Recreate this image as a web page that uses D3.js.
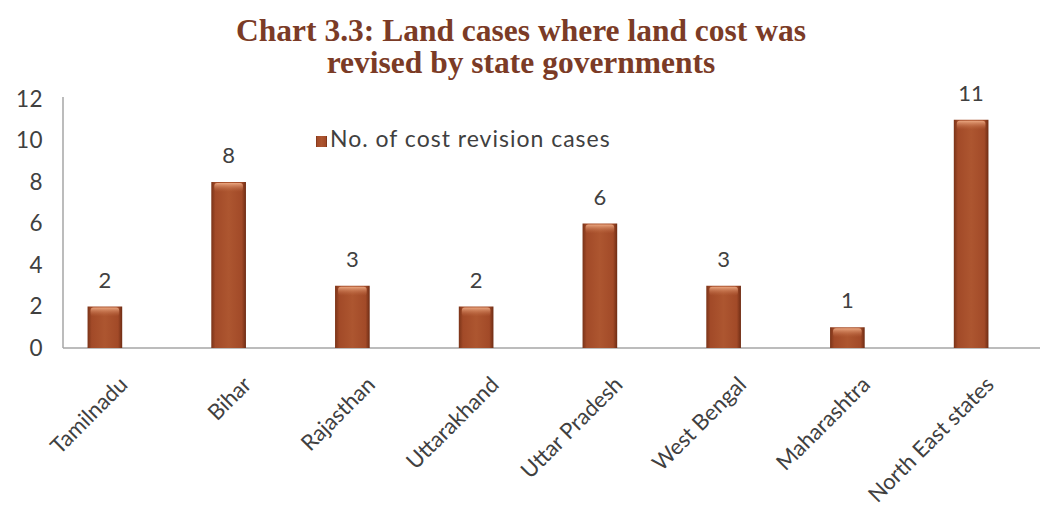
<!DOCTYPE html>
<html><head><meta charset="utf-8">
<script src="https://cdn.jsdelivr.net/npm/d3@7"></script>
<style>body{margin:0;background:#fff;} svg{display:block;}</style>
</head><body>
<script>
const categories = ["Tamilnadu","Bihar","Rajasthan","Uttarakhand","Uttar Pradesh","West Bengal","Maharashtra","North East states"];
const values = [2,8,3,2,6,3,1,11];
const yTicks = [0,2,4,6,8,10,12];
const seriesName = "No. of cost revision cases";
const titleLines = ["Chart 3.3: Land cases where land cost was","revised by state governments"];

const W=1042,H=511;
const FONT="Lato, Carlito, sans-serif";
const svg=d3.select("body").append("svg").attr("width",W).attr("height",H);
const defs=svg.append("defs");
const g1=defs.append("linearGradient").attr("id","barH").attr("x1","0").attr("x2","1").attr("y1","0").attr("y2","0");
[["0%","#7a3318"],["12%","#a24a28"],["50%","#ad5630"],["88%","#a24a28"],["100%","#6e2c14"]].forEach(s=>g1.append("stop").attr("offset",s[0]).attr("stop-color",s[1]));
const g2=defs.append("linearGradient").attr("id","barTop").attr("x1","0").attr("x2","0").attr("y1","0").attr("y2","1");
[["0%","#f2b08a",0.9],["100%","#c06a42",0]].forEach(s=>g2.append("stop").attr("offset",s[0]).attr("stop-color",s[1]).attr("stop-opacity",s[2]));

const x=d3.scaleBand().domain(categories).range([43,1033]).paddingInner(0.72).paddingOuter(0.36);
const y=d3.scaleLinear().domain([0,12]).range([348,99]);
const plotLeft=63, plotRight=1040;

// title
svg.append("g").selectAll("text").data(titleLines).join("text")
  .attr("x",521).attr("y",(d,i)=>41+i*32).attr("text-anchor","middle")
  .attr("font-family","Liberation Serif, Times New Roman, serif").attr("font-weight","bold")
  .attr("font-size",31.5).attr("fill","#7b3b26").text(d=>d);

// axes
const yAxis=d3.axisLeft(y).tickValues(yTicks).tickSize(0).tickPadding(20);
const ya=svg.append("g").attr("transform",`translate(${plotLeft},0)`).call(yAxis);
ya.select(".domain").remove();
ya.selectAll("text").attr("font-family",FONT).attr("font-size",22.5).attr("fill","#404040").attr("text-anchor","end").attr("letter-spacing",0.5);
svg.append("line").attr("x1",plotLeft).attr("x2",plotLeft).attr("y1",y(12)-2).attr("y2",y(0))
  .attr("stroke","#a6a6a6").attr("stroke-width",1.5);

const xAxis=d3.axisBottom(x).tickSize(0).tickPadding(0);
const xa=svg.append("g").attr("transform",`translate(0,${y(0)})`).call(xAxis);
xa.select(".domain").remove();
xa.selectAll("text").attr("font-family",FONT).attr("font-size",22).attr("fill","#404040")
  .attr("text-anchor","end").attr("dy",0)
  .attr("transform","translate(24,38) rotate(-45)");
svg.append("line").attr("x1",plotLeft).attr("x2",plotRight).attr("y1",y(0)).attr("y2",y(0))
  .attr("stroke","#a6a6a6").attr("stroke-width",1.5);

// bars
const bars=svg.append("g").selectAll("g").data(categories).join("g");
bars.append("rect").attr("x",d=>x(d)).attr("y",(d,i)=>y(values[i])).attr("width",x.bandwidth())
  .attr("height",(d,i)=>y(0)-y(values[i])).attr("fill","url(#barH)");
bars.append("rect").attr("x",d=>x(d)+3).attr("y",(d,i)=>y(values[i])+1).attr("width",x.bandwidth()-6)
  .attr("height",(d,i)=>Math.min(9,y(0)-y(values[i])-2)).attr("rx",3).attr("fill","url(#barTop)");

// value labels
svg.append("g").selectAll("text").data(categories).join("text")
  .attr("x",d=>x(d)+x.bandwidth()/2).attr("y",(d,i)=>y(values[i])-19).attr("text-anchor","middle")
  .attr("font-family",FONT).attr("font-size",22).attr("fill","#404040")
  .text((d,i)=>values[i]);

// legend
const lg=svg.append("g").attr("transform","translate(316,136)");
lg.append("rect").attr("width",11).attr("height",11).attr("fill","url(#barH)");
lg.append("text").attr("x",14).attr("y",11).attr("font-family",FONT).attr("font-size",23).attr("letter-spacing",1).attr("fill","#404040").text(seriesName);
</script>
</body></html>
